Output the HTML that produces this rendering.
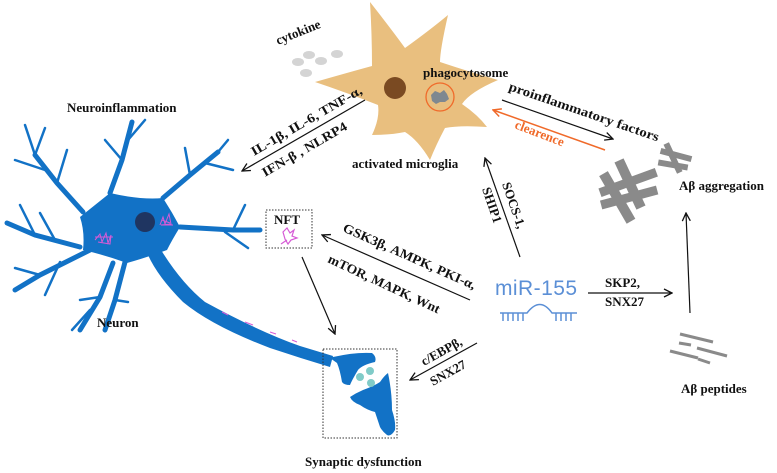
<!DOCTYPE html>
<html><head><meta charset="utf-8"><style>
html,body{margin:0;padding:0;background:#fff;}
svg{display:block;}
text{font-family:"Liberation Serif",serif;font-weight:bold;font-size:13px;fill:#111;}
</style></head><body>
<svg width="777" height="473" viewBox="0 0 777 473" xmlns="http://www.w3.org/2000/svg">
<defs>
<marker id="ah" markerWidth="10" markerHeight="10" refX="9" refY="5" orient="auto" markerUnits="userSpaceOnUse">
<path d="M1,1 L9,5 L1,9" fill="none" stroke="#111" stroke-width="1.3"/></marker>
<marker id="aho" markerWidth="10" markerHeight="10" refX="9" refY="5" orient="auto" markerUnits="userSpaceOnUse">
<path d="M1,1 L9,5 L1,9" fill="none" stroke="#f06a2a" stroke-width="1.5"/></marker>
</defs>

<!-- microglia -->
<path d="M370,2 Q392,30 405,48 Q430,30 448,15 Q440,50 440,62 Q470,72 498,80 Q470,92 462,104 Q478,115 487,127 Q460,125 445,128 Q436,145 430,160 Q418,140 405,132 Q390,135 372,135 Q380,118 378,105 Q345,92 315,82 Q350,72 372,66 Q372,35 370,2 Z" fill="#e9bf7f"/>
<circle cx="395" cy="88" r="11" fill="#7a4a22"/>
<circle cx="440" cy="97" r="14" fill="none" stroke="#f06a2a" stroke-width="1.3"/>
<path d="M431,95 l4,-4 5,2 4,-3 3,4 2,5 -4,3 -5,0 -4,2 -4,-3 z" fill="#7f8890"/>
<text x="423" y="77">phagocytosome</text>
<text x="352" y="168">activated microglia</text>

<!-- cytokine -->
<text x="278" y="45" transform="rotate(-22 278 45)">cytokine</text>
<g fill="#d4d4d4"><ellipse cx="298" cy="62" rx="6" ry="4"/><ellipse cx="309" cy="55" rx="6" ry="4"/><ellipse cx="321" cy="61" rx="6" ry="4"/><ellipse cx="337" cy="54" rx="6" ry="4"/><ellipse cx="306" cy="73" rx="6" ry="4"/></g>

<text x="67" y="112" font-size="14">Neuroinflammation</text>

<!-- neuron -->
<g stroke="#1272c6" fill="none" stroke-linecap="round">
<g stroke-width="5">
<path d="M83,212 L57,183 L35,155"/><path d="M110,193 L122,160 L132,122"/><path d="M163,198 L190,175 L218,152"/>
<path d="M180,227 L233,230 L260,230"/><path d="M80,247 L35,235 L7,223"/><path d="M90,250 L40,275 L15,290"/>
<path d="M113,263 L100,297 L80,330"/><path d="M125,262 L115,300 L105,330"/>
</g>
<g stroke-width="2.5">
<path d="M57,183 L67,150"/><path d="M45,170 L15,160"/><path d="M35,155 L25,125"/><path d="M35,155 L45,128"/>
<path d="M122,160 L105,140"/><path d="M128,140 L145,120"/><path d="M190,175 L185,148"/><path d="M205,163 L233,170"/><path d="M218,152 L228,140"/>
<path d="M233,230 L245,205"/><path d="M225,232 L248,248"/><path d="M35,235 L20,205"/><path d="M55,240 L40,213"/>
<path d="M40,275 L15,268"/><path d="M60,262 L45,295"/><path d="M100,297 L80,300"/><path d="M115,300 L128,302"/><path d="M90,310 L72,330"/>
</g>
</g>
<path d="M80,217 Q95,205 110,193 Q140,200 163,198 Q172,212 180,227 Q172,240 167,250 Q145,258 127,263 Q105,255 83,250 Q85,232 80,217 Z" fill="#1272c6"/>
<path d="M158,245 Q180,282 205,302 Q260,332 300,346 L333,356 L330,367 Q300,358 270,348 Q212,326 183,302 Q158,277 148,255 Z" fill="#1272c6"/>
<circle cx="145" cy="222" r="10" fill="#1f3561"/>
<g stroke="#d65bd6" stroke-width="1" fill="none">
<path d="M95,240 l5,-6 2,8 4,-9 2,10 3,-8 -1,9 -12,-2 M95,237 h18"/>
<path d="M160,225 l3,-8 2,7 4,-10 2,10 -10,1 h12 M162,220 l8,3"/>
<path d="M222,312 l6,3 M245,322 l8,3 M270,332 l6,2 M292,340 l5,2"/>
</g>
<text x="97" y="327">Neuron</text>

<!-- NFT -->
<rect x="266" y="210" width="46" height="38" fill="none" stroke="#333" stroke-width="1" stroke-dasharray="1.5,1.5"/>
<text x="274" y="224">NFT</text>
<path d="M283,232 l4,-4 3,5 4,-3 -2,6 5,2 -6,2 -3,4 -3,-5 z M281,244 l6,-4" fill="none" stroke="#d65bd6" stroke-width="1.2"/>

<!-- synapse -->
<rect x="323" y="349" width="74" height="89" fill="none" stroke="#333" stroke-width="1" stroke-dasharray="1.5,1.5"/>
<path d="M323,353 L333,357 Q355,352 372,353 Q377,357 375,362 Q362,365 358,370 Q352,380 350,385 Q344,385 342,382 Q340,370 337,363 Z" fill="#1272c6"/>
<path d="M350,397 Q356,393 363,390 Q374,386 380,382 Q384,376 388,373 Q392,392 392,410 Q396,422 395,430 Q391,437 387,435 Q382,431 380,427 Q377,418 375,412 Q367,410 360,405 Q352,402 350,397 Z" fill="#1272c6"/>
<g fill="#80cbc8"><circle cx="360" cy="377" r="4"/><circle cx="370" cy="371" r="4"/><circle cx="371" cy="383" r="4"/></g>
<text x="305" y="466" font-size="13.5">Synaptic dysfunction</text>

<!-- arrows -->
<g stroke="#111" stroke-width="1.2" fill="none">
<line x1="365" y1="100" x2="242" y2="171" marker-end="url(#ah)"/>
<line x1="502" y1="100" x2="613" y2="139" marker-end="url(#ah)"/>
<line x1="520" y1="257" x2="485" y2="158" marker-end="url(#ah)"/>
<line x1="470" y1="300" x2="322" y2="235" marker-end="url(#ah)"/>
<line x1="588" y1="293" x2="672" y2="293" marker-end="url(#ah)"/>
<line x1="690" y1="313" x2="686" y2="213" marker-end="url(#ah)"/>
<line x1="477" y1="343" x2="410" y2="380" marker-end="url(#ah)"/>
<line x1="302" y1="257" x2="335" y2="334" marker-end="url(#ah)"/>
</g>
<line x1="605" y1="150" x2="493" y2="110" stroke="#f06a2a" stroke-width="1.5" marker-end="url(#aho)"/>

<!-- arrow labels -->
<text x="254" y="156" font-size="14" transform="rotate(-30 254 156)" textLength="126" lengthAdjust="spacingAndGlyphs">IL-1β, IL-6, TNF-α,</text>
<text x="265" y="177" font-size="14" transform="rotate(-30 265 177)" textLength="96" lengthAdjust="spacingAndGlyphs">IFN-β ,  NLRP4</text>
<text x="508" y="90" font-size="14" transform="rotate(19 508 90)" textLength="158" lengthAdjust="spacingAndGlyphs">proinflammatory factors</text>
<text x="514" y="128" transform="rotate(21 514 128)" style="fill:#f06a2a">clearence</text>
<text x="502" y="184" transform="rotate(71 502 184)">SOCS-1,</text>
<text x="482" y="189" transform="rotate(71 482 189)">SHIP1</text>
<text x="342" y="231" font-size="14" transform="rotate(24 342 231)" textLength="144" lengthAdjust="spacingAndGlyphs">GSK3β, AMPK, PKI-α,</text>
<text x="327" y="262" font-size="14" transform="rotate(25 327 262)" textLength="122" lengthAdjust="spacingAndGlyphs">mTOR, MAPK, Wnt</text>
<text x="424" y="366" transform="rotate(-29 424 366)">c/EBPβ,</text>
<text x="433" y="386" transform="rotate(-29 433 386)">SNX27</text>
<text x="605" y="287">SKP2,</text>
<text x="605" y="306">SNX27</text>

<!-- miR-155 -->
<text x="495" y="295" textLength="82" style="font-family:'Liberation Sans',sans-serif;font-weight:normal;font-size:21px;fill:#5b8fd6">miR-155</text>
<g stroke="#5b8fd6" stroke-width="1.5" fill="none">
<path d="M500,313 H527 Q540,296 552,313 H577"/>
<path d="M503,313 v8 M508,313 v8 M513,313 v8 M518,313 v8 M523,313 v8 M556,313 v8 M561,313 v8 M566,313 v8 M571,313 v8"/>
</g>

<!-- Aβ aggregation -->
<g fill="#8a8a8a">
<rect x="598" y="178" width="60" height="9" transform="rotate(-20 628 182)"/>
<rect x="600" y="193" width="58" height="9" transform="rotate(-15 629 197)"/>
<rect x="612" y="170" width="10" height="55" transform="rotate(-30 617 197)"/>
<rect x="625" y="158" width="10" height="52" transform="rotate(-25 630 184)"/>
<rect x="660" y="152" width="32" height="6" transform="rotate(15 676 155)"/>
<rect x="658" y="162" width="30" height="6" transform="rotate(10 673 165)"/>
<rect x="670" y="142" width="6" height="32" transform="rotate(-25 673 158)"/>
</g>
<text x="679" y="190">Aβ aggregation</text>

<!-- peptides -->
<g stroke="#8a8a8a" stroke-width="3">
<line x1="680" y1="334" x2="713" y2="342"/><line x1="679" y1="343" x2="691" y2="345"/>
<line x1="697" y1="348" x2="727" y2="356"/><line x1="670" y1="351" x2="698" y2="358"/>
<line x1="698" y1="359" x2="710" y2="363"/>
</g>
<text x="681" y="393">Aβ peptides</text>
</svg>
</body></html>
